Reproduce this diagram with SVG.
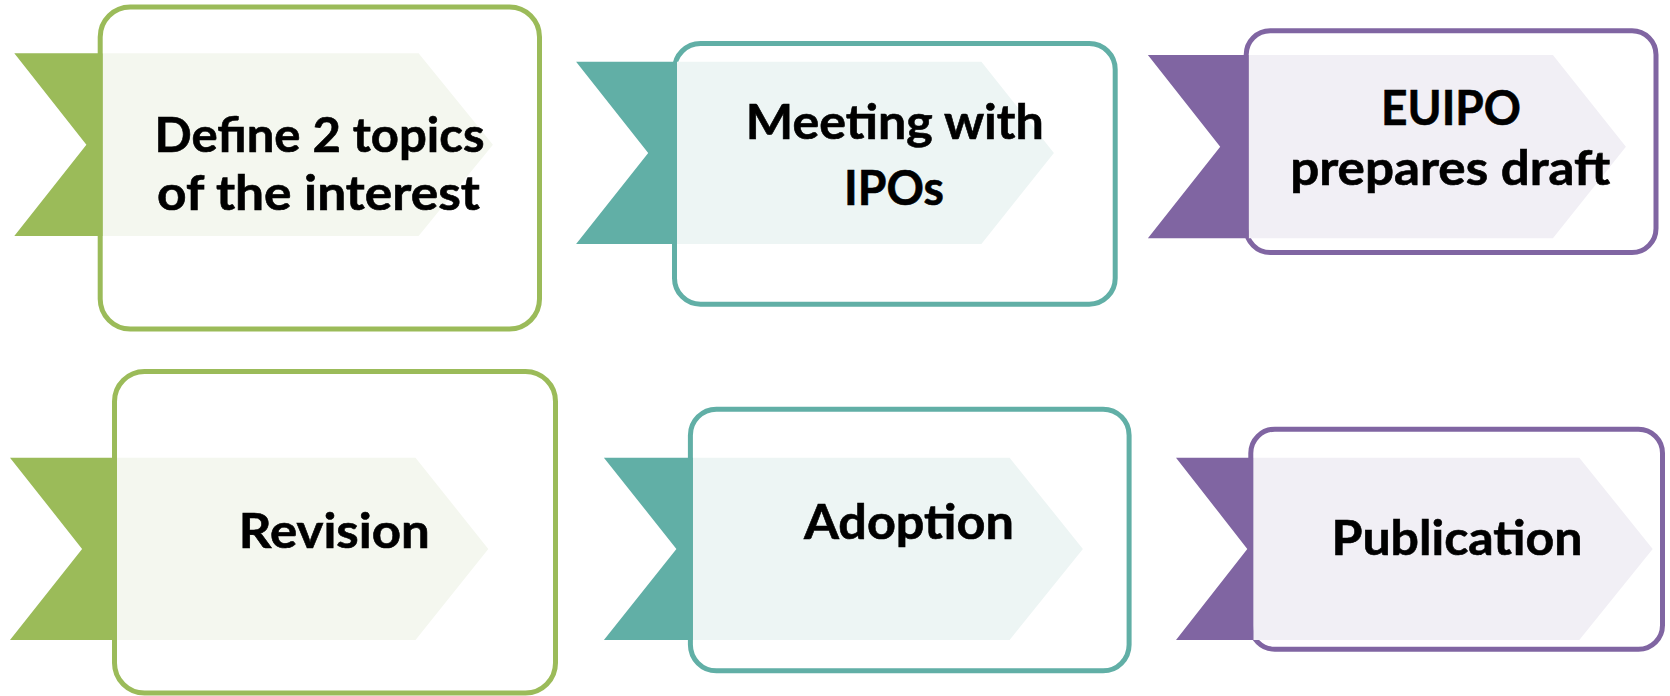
<svg xmlns="http://www.w3.org/2000/svg" width="1670" height="696" viewBox="0 0 1670 696">
  <style>
    .frame { fill: #ffffff; stroke-width: 5; }
    .label { font-family: "Lato", "Liberation Sans", sans-serif; font-weight: 700; font-size: 48px; fill: #000000; stroke: #000000; stroke-width: 0.6; text-anchor: middle; }
    .green .frame { stroke: #9bbb59; }
    .green .tab { fill: #9bbb59; }
    .green .band { fill: #f4f7ef; }
    .teal .frame { stroke: #61afa6; }
    .teal .tab { fill: #61afa6; }
    .teal .band { fill: #edf5f4; }
    .purple .frame { stroke: #8065a2; }
    .purple .tab { fill: #8065a2; }
    .purple .band { fill: #f1eff5; }
  </style>

  <!-- Step 1 -->
  <g id="define-topics" class="green">
    <rect class="frame" x="100.2" y="7" width="439.3" height="322" rx="30"/>
    <polygon class="band" points="102.7,53.3 418.6,53.3 492.9,144.7 418.6,236 102.7,236"/>
    <polygon class="tab" points="14.3,53.3 102.7,53.3 102.7,236 14.3,236 86.4,144.7"/>
    <text class="label" x="319.5" y="151.7" textLength="330" lengthAdjust="spacingAndGlyphs">Define 2 topics</text>
    <text class="label" x="318.5" y="210" textLength="323" lengthAdjust="spacingAndGlyphs">of the interest</text>
  </g>

  <!-- Step 2 -->
  <g id="meeting-ipos" class="teal">
    <rect class="frame" x="674.5" y="43.5" width="440.7" height="260.7" rx="26"/>
    <polygon class="band" points="677,61.7 981.4,61.7 1053.9,152.9 981.4,244 677,244"/>
    <polygon class="tab" points="576.1,61.7 677,61.7 677,244 576.1,244 648.2,152.9"/>
    <text class="label" x="894.8" y="139" textLength="298" lengthAdjust="spacingAndGlyphs">Meeting with</text>
    <text class="label" x="894" y="205" textLength="100" lengthAdjust="spacingAndGlyphs">IPOs</text>
  </g>

  <!-- Step 3 -->
  <g id="euipo-draft" class="purple">
    <rect class="frame" x="1246.2" y="30.8" width="409.8" height="221.7" rx="24"/>
    <polygon class="band" points="1248.7,55 1552.9,55 1625.9,146.7 1552.9,238.3 1248.7,238.3"/>
    <polygon class="tab" points="1147.9,55 1248.7,55 1248.7,238.3 1147.9,238.3 1220.2,146.7"/>
    <text class="label" x="1451" y="125" textLength="140" lengthAdjust="spacingAndGlyphs">EUIPO</text>
    <text class="label" x="1450.2" y="185" textLength="320" lengthAdjust="spacingAndGlyphs">prepares draft</text>
  </g>

  <!-- Step 4 -->
  <g id="revision" class="green">
    <rect class="frame" x="114.5" y="371.5" width="441" height="321.5" rx="30"/>
    <polygon class="band" points="117,457.7 415.5,457.7 488.3,548.9 415.5,640 117,640"/>
    <polygon class="tab" points="10,457.7 117,457.7 117,640 10,640 82.1,548.9"/>
    <text class="label" x="334.3" y="548.3" textLength="191" lengthAdjust="spacingAndGlyphs">Revision</text>
  </g>

  <!-- Step 5 -->
  <g id="adoption" class="teal">
    <rect class="frame" x="690.4" y="409.2" width="438.7" height="261.6" rx="26"/>
    <polygon class="band" points="692.9,457.7 1009.6,457.7 1082.9,548.9 1009.6,640 692.9,640"/>
    <polygon class="tab" points="603.9,457.7 692.9,457.7 692.9,640 603.9,640 676.4,548.9"/>
    <text class="label" x="908.9" y="539" textLength="210" lengthAdjust="spacingAndGlyphs">Adoption</text>
  </g>

  <!-- Step 6 -->
  <g id="publication" class="purple">
    <rect class="frame" x="1250.8" y="429.2" width="411.7" height="220" rx="24"/>
    <polygon class="band" points="1253.3,457.7 1579.3,457.7 1652.7,548.9 1579.3,640 1253.3,640"/>
    <polygon class="tab" points="1176,457.7 1253.3,457.7 1253.3,640 1176,640 1247.3,548.9"/>
    <text class="label" x="1457" y="555" textLength="251" lengthAdjust="spacingAndGlyphs">Publication</text>
  </g>
</svg>
